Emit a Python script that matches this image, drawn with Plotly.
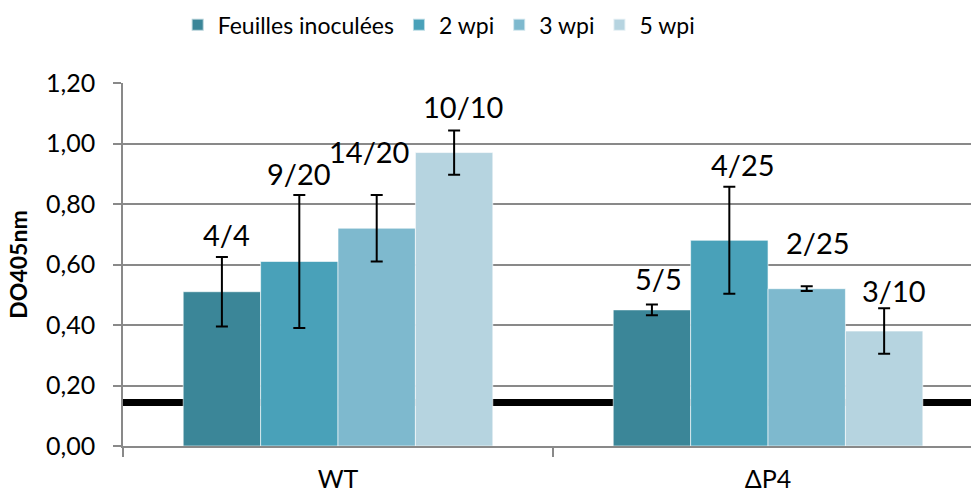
import plotly.graph_objects as go

# Strains on the x axis and the four sampling series
strains = ["WT", "ΔP4"]
series = ["Feuilles inoculées", "2 wpi", "3 wpi", "5 wpi"]

# Mean OD405 per series (WT, ΔP4) and their error bar half-widths
feuilles = [0.51, 0.45]
wpi2 = [0.61, 0.68]
wpi3 = [0.72, 0.52]
wpi5 = [0.97, 0.38]
means = [feuilles, wpi2, wpi3, wpi5]

err_feuilles = [0.115, 0.018]
err_wpi2 = [0.22, 0.177]
err_wpi3 = [0.11, 0.008]
err_wpi5 = [0.073, 0.075]
errors = [err_feuilles, err_wpi2, err_wpi3, err_wpi5]

# Positive plants / tested plants, printed above each bar
labels_feuilles = ["4/4", "5/5"]
labels_wpi2 = ["9/20", "4/25"]
labels_wpi3 = ["14/20", "2/25"]
labels_wpi5 = ["10/10", "3/10"]
labels = [labels_feuilles, labels_wpi2, labels_wpi3, labels_wpi5]

# Detection threshold
threshold = 0.144

colors = ["#3B8698", "#49A1B9", "#7EB9CE", "#B6D4E0"]

# Pixel nudges for the count labels (style only)
label_dx = [[5, 7], [0, 14], [-8, 11], [9, 10]]
label_dy = [[22, 26], [21, 22], [43, 44], [24, 18]]

FONT = "Lato"
GRID = "#898989"

fig = go.Figure()

for name, vals, errs, col in zip(series, means, errors, colors):
    fig.add_trace(go.Bar(
        x=strains, y=vals, name=name,
        marker=dict(color=col, line=dict(color="rgba(255,255,255,0.6)", width=1)),
        error_y=dict(type="data", array=errs, visible=True,
                     color="black", thickness=2, width=6),
    ))

# Count labels placed over each bar's error bar
bar_width = 0.72 / len(series)
for i, (vals, errs, labs) in enumerate(zip(means, errors, labels)):
    offset = -0.36 + bar_width * (i + 0.5)
    for j in range(len(strains)):
        fig.add_annotation(
            x=j + offset, y=vals[j] + errs[j], xref="x", yref="y",
            text=labs[j], showarrow=False,
            xshift=label_dx[i][j], yshift=label_dy[i][j],
            font=dict(family=FONT, size=29, color="black"),
        )

fig.add_shape(
    type="line", xref="paper", yref="y",
    x0=0, x1=1, y0=threshold, y1=threshold,
    line=dict(color="black", width=7), layer="between",
)

fig.update_layout(
    width=971, height=496,
    margin=dict(l=123, r=0, t=83, b=50, autoexpand=False),
    paper_bgcolor="white", plot_bgcolor="white",
    barmode="group", bargap=0.28, bargroupgap=0,
    separators=", ",
    font=dict(family=FONT, size=23, color="black"),
    showlegend=True,
    legend=dict(
        orientation="h", xref="container", yref="container",
        x=0.183, xanchor="left", y=0.95, yanchor="middle",
        font=dict(family=FONT, size=23, color="black"),
        itemsizing="constant", tracegroupgap=0,
    ),
    xaxis=dict(
        range=[-0.5, 1.472], showgrid=False, automargin=False,
        showline=True, linecolor=GRID, linewidth=1.5,
        ticks="outside", tickson="boundaries", ticklen=9,
        tickcolor=GRID, tickwidth=1.5, ticklabelstandoff=10,
        tickfont=dict(family=FONT, size=25, color="black"),
    ),
    yaxis=dict(
        range=[0, 1.2], dtick=0.2, tickformat=".2f", automargin=False,
        showgrid=True, gridcolor=GRID, gridwidth=1.5,
        showline=True, linecolor=GRID, linewidth=1.5,
        ticks="outside", ticklen=8, tickcolor=GRID, tickwidth=1.5,
        ticklabelstandoff=13,
        tickfont=dict(family=FONT, size=25, color="black"),
        title=dict(text="<b>DO405nm</b>", standoff=12,
                   font=dict(family=FONT, size=23, color="black")),
        zeroline=False,
    ),
)

fig.write_html("out.html")
